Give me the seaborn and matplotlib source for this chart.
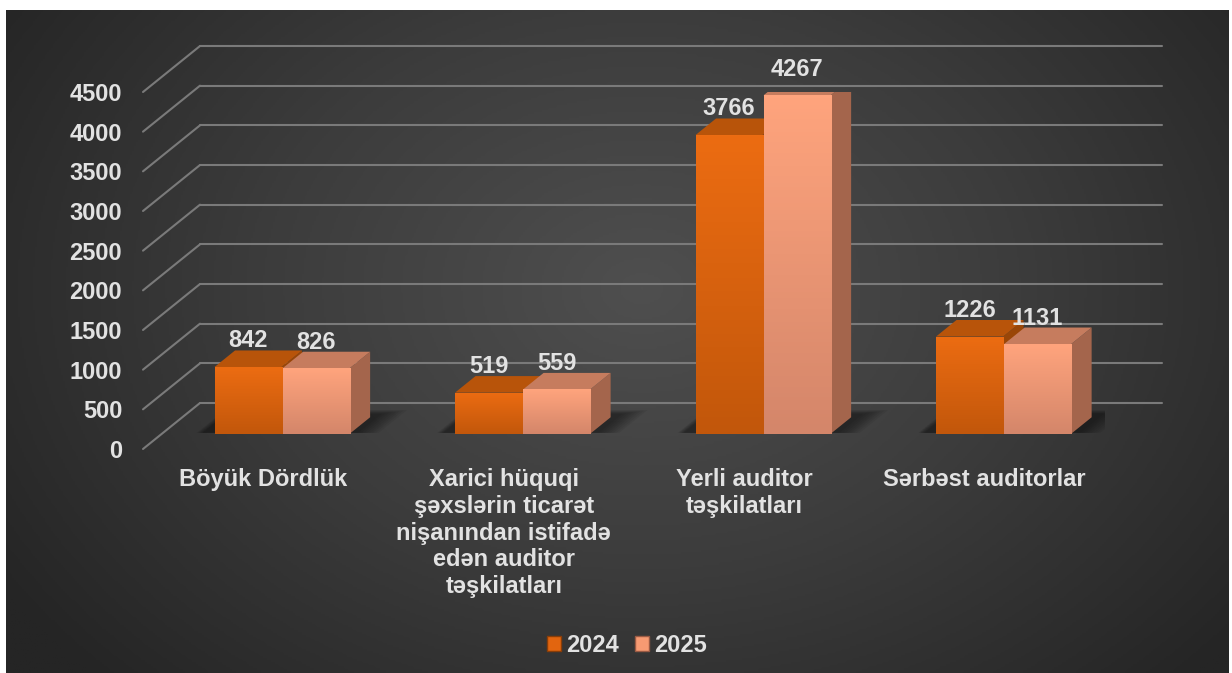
import numpy as np
import pandas as pd
import matplotlib
matplotlib.use("Agg")
import matplotlib.pyplot as plt
import seaborn as sns
from matplotlib.transforms import ScaledTranslation
from matplotlib.patches import Polygon, Patch
from matplotlib.colors import LinearSegmentedColormap

# ---------------- data ----------------
categories = [
    "Böyük Dördlük",
    "Xarici hüquqi\nşəxslərin ticarət\nnişanından istifadə\nedən auditor\ntəşkilatları",
    "Yerli auditor\ntəşkilatları",
    "Sərbəst auditorlar",
]
years = ["2024", "2025"]
values_2024 = [842, 519, 3766, 1226]
values_2025 = [826, 559, 4267, 1131]
y_ticks = [0, 500, 1000, 1500, 2000, 2500, 3000, 3500, 4000, 4500]

df = pd.DataFrame({
    "category": categories * 2,
    "year": [years[0]] * 4 + [years[1]] * 4,
    "value": values_2024 + values_2025,
})

# ---------------- style ----------------
sns.set_theme(style="white")
plt.rcParams["font.family"] = ["Liberation Sans", "DejaVu Sans"]

W, H = 1232, 673
TXT = "#E2E2E2"
FS = 17
c24, c25 = "#E2650F", "#F79A72"
front_grad = {0: ("#EC6C12", "#C2570B"), 1: ("#FFA47D", "#D4866A")}
top_col = {0: "#B8540A", 1: "#C67C5E"}
side_col = {0: "#9A4607", 1: "#A4654C"}

fig = plt.figure(figsize=(W / 100, H / 100), dpi=100, facecolor="white")

# background panel with radial gradient
bg = fig.add_axes([6 / W, 0, (1229 - 6) / W, (H - 10) / H])
bg.axis("off")
ny, nx = 300, 600
yy, xx = np.mgrid[0:1:ny * 1j, 0:1:nx * 1j]
r = np.sqrt(((xx - 0.52) / 0.62) ** 2 + ((yy - 0.42) / 0.85) ** 2)
r = np.clip(r, 0, 1)
bg_cmap = LinearSegmentedColormap.from_list("bg", ["#4f4f4f", "#3c3c3c", "#252525"])
bg.imshow(r, cmap=bg_cmap, aspect="auto", extent=[0, 1, 0, 1], origin="upper", vmin=0, vmax=1)
bg.set_xlim(0, 1)
bg.set_ylim(0, 1)

# main (front plane) axes
ax = fig.add_axes([143 / W, (H - 449) / H, 962 / W, 357 / H])
ax.set_facecolor("none")

sns.barplot(data=df, x="category", y="value", hue="year", order=categories,
            hue_order=years, palette=[c24, c25], width=0.566, gap=0.015,
            saturation=1, ax=ax, legend=False, errorbar=None)

ax.set_xlim(-0.5, 3.5)
ax.set_ylim(0, 4500)
ax.set_autoscale_on(False)

DX, DY = 57, 46       # full depth offset in pixels
F1, F2 = 0.33, 0.69   # bar front / back depth fractions


def shift(xs, ys, frac):
    pts = ax.transData.transform(np.column_stack([xs, ys]))
    pts = pts + np.array([DX * frac, DY * frac])
    return ax.transData.inverted().transform(pts)


# back wall grid and left diagonals
for v in y_ticks:
    diag = np.vstack([shift([-0.5], [v], 0), shift([-0.5], [v], 1)])
    ax.plot(diag[:, 0], diag[:, 1], color="#7a7a7a", lw=1.5, clip_on=False, zorder=0.5)
    back = shift([-0.5, 3.5], [v, v], 1)
    ax.plot(back[:, 0], back[:, 1], color="#7a7a7a", lw=1.5, clip_on=False, zorder=0.5)

front_offset = ax.transData + ScaledTranslation(DX * F1 / 100, DY * F1 / 100, fig.dpi_scale_trans)

patches = list(ax.patches)
info = []
for idx, p in enumerate(patches):
    info.append((p.get_x(), idx // 4, p))
info.sort(key=lambda t: t[0])

# soft floor shadows under each bar pair
for k in range(0, len(info), 2):
    xs = info[k][2].get_x()
    xe = info[k + 1][2].get_x() + info[k + 1][2].get_width()
    for j in range(8):
        g = 0.012 * (8 - j)
        a = shift([xs - 0.05 - g * 0.3, xe + 0.02 + g], [0, 0], F1 + 0.02)
        b = shift([xe + 0.02 + g, xs - 0.05 - g * 0.3], [0, 0], F2 + 0.06 + g)
        poly = Polygon(np.vstack([a, b]), closed=True, facecolor="black",
                       edgecolor="none", alpha=0.06, zorder=0.8)
        ax.add_patch(poly)

for i, (x0, hue_i, p) in enumerate(info):
    w = p.get_width()
    h = p.get_height()
    z = 2 + i * 0.1
    # side face
    side = np.vstack([shift([x0 + w, x0 + w], [0, h], F1), shift([x0 + w, x0 + w], [h, 0], F2)])
    ax.add_patch(Polygon(side, closed=True, facecolor=side_col[hue_i], edgecolor="none", zorder=z))
    # top face
    top = np.vstack([shift([x0, x0 + w], [h, h], F1), shift([x0 + w, x0], [h, h], F2)])
    ax.add_patch(Polygon(top, closed=True, facecolor=top_col[hue_i], edgecolor="none", zorder=z + 0.01))
    # front face (seaborn bar, moved to its depth)
    p.set_transform(front_offset)
    p.set_edgecolor("none")
    p.set_zorder(z + 0.02)
    cm = LinearSegmentedColormap.from_list("g%d" % i, list(front_grad[hue_i]))
    grad = np.linspace(0, 1, 100).reshape(-1, 1)
    im = ax.imshow(grad, cmap=cm, extent=(x0, x0 + w, 0, h), origin="upper",
                   aspect="auto", transform=front_offset, zorder=z + 0.03)
    im.set_clip_path(p)
    # value label
    ax.annotate(f"{int(h)}", xy=(x0 + w / 2, h), xytext=(DX * F1, DY * F2 + 3),
                textcoords="offset pixels", ha="center", va="baseline",
                fontsize=FS, fontweight="bold", color=TXT, zorder=10,
                annotation_clip=False)

ax.set_xlim(-0.5, 3.5)
ax.set_ylim(0, 4500)

# axes text
ax.set_xlabel("")
ax.set_ylabel("")
ax.set_yticks(y_ticks)
ax.set_yticklabels([str(t) for t in y_ticks], fontsize=FS, fontweight="bold", color=TXT)
ax.set_xticks(range(len(categories)))
ax.set_xticklabels(categories, fontsize=FS, fontweight="bold", color=TXT, linespacing=1.2,
                   va="top")
ax.tick_params(axis="y", length=0, pad=15)
ax.tick_params(axis="x", length=0, pad=14)
for s in ax.spines.values():
    s.set_visible(False)
ax.grid(False)

# legend
handles = [Patch(facecolor=c24, edgecolor="#8a3d08"), Patch(facecolor=c25, edgecolor="#9a5a44")]
fig.legend(handles=handles, labels=years, loc="center", bbox_to_anchor=(627 / W, (H - 645) / H),
           ncol=2, frameon=False, handlelength=0.6, handleheight=0.6, handletextpad=0.2,
           columnspacing=0.7, prop={"weight": "bold", "size": FS}, labelcolor=TXT)

fig.savefig("out.png", dpi=100, facecolor="white")
